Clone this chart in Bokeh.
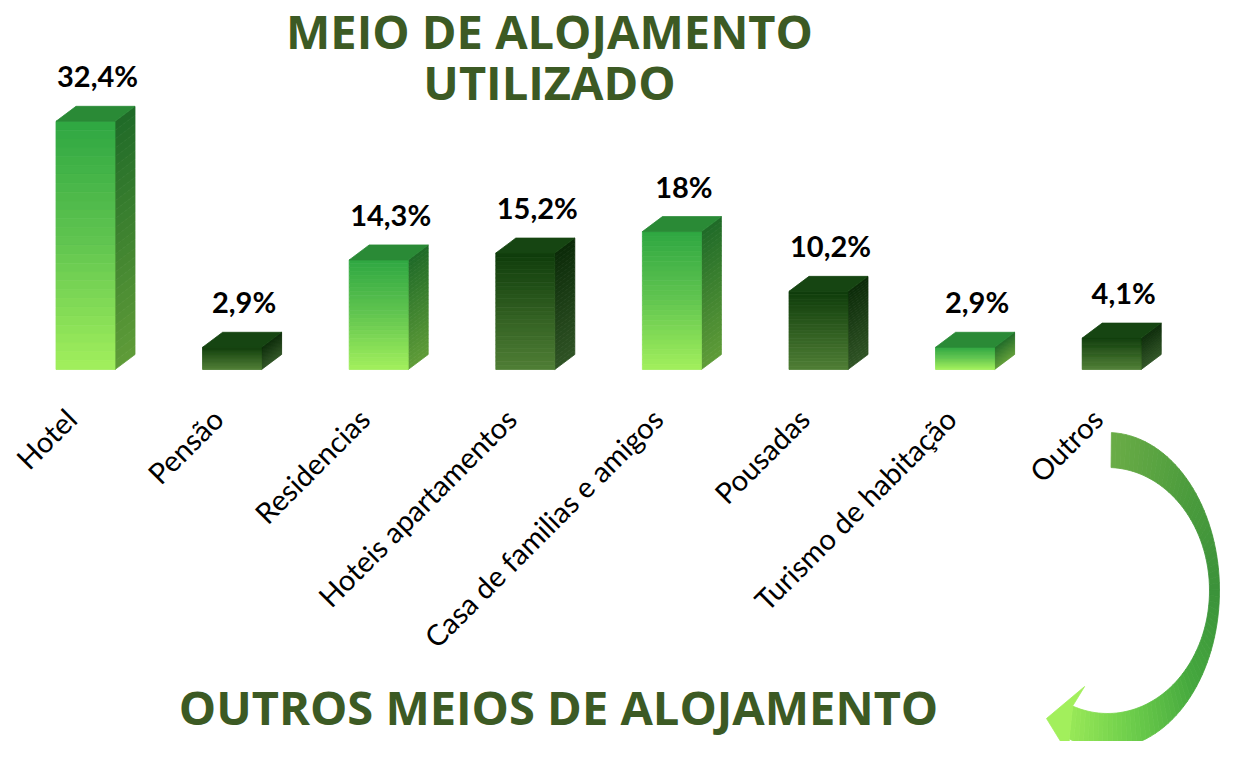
import numpy as np
from bokeh.plotting import figure
from bokeh.models import Range1d
from bokeh.core.properties import value
from bokeh.embed import file_html
from bokeh.resources import INLINE

# ---------------- data ----------------
categories = ["Hotel", "Pensão", "Residencias", "Hoteis apartamentos",
              "Casa de familias e amigos", "Pousadas", "Turismo de habitação", "Outros"]
percent = [32.4, 2.9, 14.3, 15.2, 18.0, 10.2, 2.9, 4.1]
shade = ["light", "dark", "light", "dark", "light", "dark", "light", "dark"]
value_labels = [f"{v:g}".replace(".", ",") + "%" for v in percent]
title_top = ["MEIO DE ALOJAMENTO", "UTILIZADO"]
title_bottom = "OUTROS MEIOS DE ALOJAMENTO"

# ---------------- geometry ----------------
W, H = 1220, 741
X0_PX, STEP_PX, BASE_PX, PX_PER_PCT = 85.0, 146.6, 369.0, 7.66
x_start = -X0_PX / STEP_PX
x_end = x_start + W / STEP_PX
y_end = BASE_PX / PX_PER_PCT
y_start = y_end - H / PX_PER_PCT


def X(px):
    return x_start + np.asarray(px, dtype=float) / STEP_PX


def Y(py):
    return y_end - np.asarray(py, dtype=float) / PX_PER_PCT


hw = 29.5 / STEP_PX
dx = 20.0 / STEP_PX
dy = 15.0 / PX_PER_PCT

palettes = {
    "light": dict(front=[(0.0, "#2ea742"), (0.5, "#62c550"), (1.0, "#a2f05c")],
                  side=[(0.0, "#1f6a28"), (1.0, "#5f9c38")], top="#2a8a36"),
    "dark": dict(front=[(0.0, "#0f3c0b"), (1.0, "#4f7e35")],
                 side=[(0.0, "#0b2a08"), (1.0, "#2f5325")], top="#164512"),
}


def hex2rgb(h):
    h = h.lstrip("#")
    return np.array([int(h[k:k + 2], 16) for k in (0, 2, 4)], dtype=float)


def interp(stops, f):
    for (f0, c0), (f1, c1) in zip(stops[:-1], stops[1:]):
        if f <= f1 or f1 == stops[-1][0]:
            u = 0 if f1 == f0 else min(max((f - f0) / (f1 - f0), 0), 1)
            c = hex2rgb(c0) * (1 - u) + hex2rgb(c1) * u
            return "#%02x%02x%02x" % tuple(int(round(v)) for v in c)
    return stops[-1][1]


p = figure(width=W, height=H, output_backend="svg", toolbar_location=None,
           x_range=Range1d(x_start, x_end), y_range=Range1d(y_start, y_end),
           min_border=0, background_fill_color="white", border_fill_color="white")
p.axis.visible = False
p.grid.visible = False
p.outline_line_color = None

# ---------------- 3D bars ----------------
N = 28
fl, fr, ft, fb, fc = [], [], [], [], []
sxs, sys, scs = [], [], []
txs, tys, tcs = [], [], []
for i, (v, s) in enumerate(zip(percent, shade)):
    pal = palettes[s]
    for k in range(N):
        f0, f1 = k / N, (k + 1) / N
        ytop = v * (1 - f0)
        ybot = v * (1 - f1)
        col = interp(pal["front"], (f0 + f1) / 2)
        fl.append(i - hw); fr.append(i + hw); ft.append(ytop); fb.append(ybot); fc.append(col)
        scol = interp(pal["side"], (f0 + f1) / 2)
        sxs.append([i + hw, i + hw + dx, i + hw + dx, i + hw])
        sys.append([ytop, ytop + dy, ybot + dy, ybot])
        scs.append(scol)
    txs.append([i - hw, i - hw + dx, i + hw + dx, i + hw])
    tys.append([v, v + dy, v + dy, v])
    tcs.append(pal["top"])

p.patches(sxs, sys, fill_color=scs, line_color=scs, line_width=0.8)
p.quad(left=fl, right=fr, top=ft, bottom=fb, fill_color=fc, line_color=fc, line_width=0.8)
p.patches(txs, tys, fill_color=tcs, line_color=tcs, line_width=0.8)

# value labels
idx = np.arange(len(percent))
p.text(x=idx + dx * 0.6, y=np.array(percent) + dy + 30.5 / PX_PER_PCT, text=value_labels,
       text_align="center", text_baseline="middle",
       text_font=value("Lato"), text_font_style="bold", text_font_size="29px",
       text_color="black")

# category labels (rotated)
p.text(x=idx - 0.1, y=[float(Y(413))] * len(categories), text=categories, angle=np.pi / 4,
       text_align="right", text_baseline="middle",
       text_font=value("Lato"), text_font_size="29px", text_color="black")

# ---------------- titles ----------------
title_color = "#3c5a24"
p.text(x=[float(X(549))] * 2, y=[float(Y(30)), float(Y(81))], text=title_top,
       text_align="center", text_baseline="middle",
       text_font=value("Open Sans"), text_font_style="bold", text_font_size="47px",
       text_color=title_color)
p.text(x=[float(X(558))], y=[float(Y(706))], text=[title_bottom],
       text_align="center", text_baseline="middle",
       text_font=value("Open Sans"), text_font_style="bold", text_font_size="47px",
       text_color=title_color)

# ---------------- curved arrow ----------------
cx, cy = 1107.0, 590.0
ts = np.radians(np.linspace(-88, 110, 80))
ox = cx + 112 * np.cos(ts); oy = cy + 158 * np.sin(ts)
ix = cx + 102 * np.cos(ts); iy = cy + 123 * np.sin(ts)
arrow_stops = [(-88, "#6aac46"), (-40, "#4a9b3c"), (0, "#3b923a"), (40, "#45a83e"),
               (80, "#70d04c"), (110, "#98e858")]
astops = [((d + 88) / 198.0, c) for d, c in arrow_stops]
axs, ays, acs = [], [], []
for k in range(len(ts) - 1):
    xs = [ox[k], ox[k + 1], ix[k + 1], ix[k]]
    ys = [oy[k], oy[k + 1], iy[k + 1], iy[k]]
    axs.append(list(X(xs))); ays.append(list(Y(ys)))
    acs.append(interp(astops, (k + 0.5) / (len(ts) - 1)))
p.patches(axs, ays, fill_color=acs, line_color=acs, line_width=0.8)
head_x = [ix[-1], ix[-1] + 12, 1046, 1070, ox[-1]]
head_y = [iy[-1], 686, 718, 757, oy[-1]]
p.patch(list(X(head_x)), list(Y(head_y)), fill_color="#a2ef5c", line_color="#a2ef5c", line_width=0.8)

open("out.html", "w").write(file_html(p, INLINE))
